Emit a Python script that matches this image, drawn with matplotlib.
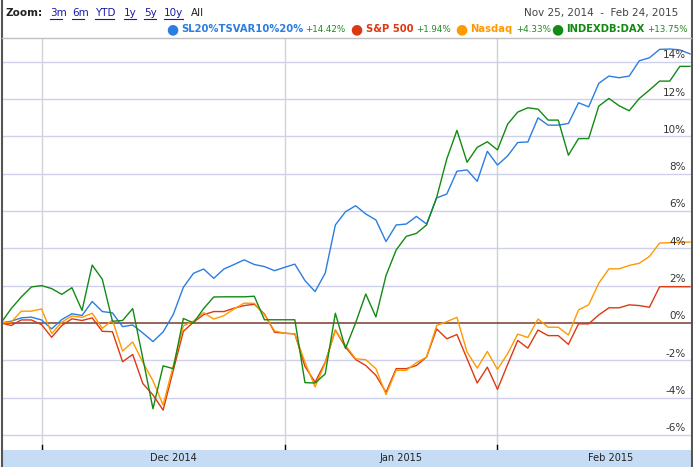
import matplotlib
matplotlib.use("Agg")
import matplotlib.pyplot as plt
from matplotlib.lines import Line2D
from matplotlib.patches import Rectangle

# daily values (% change since Nov 25, 2014), one point per trading day
sl20 = [0, 0.09, 0.27, 0.31, 0.16, -0.32, 0.18, 0.49, 0.4, 1.15, 0.61, 0.54, -0.2, -0.11, -0.54,
        -1.0, -0.48, 0.45, 1.91, 2.66, 2.89, 2.39, 2.89, 3.13, 3.38, 3.13, 3.02, 2.8, 2.98, 3.15,
        2.27, 1.68, 2.67, 5.25, 5.96, 6.28, 5.84, 5.52, 4.36, 5.25, 5.3, 5.71, 5.3, 6.7, 6.91,
        8.13, 8.2, 7.59, 9.2, 8.46, 8.95, 9.67, 9.7, 10.99, 10.6, 10.6, 10.69, 11.8, 11.58, 12.84,
        13.23, 13.14, 13.23, 14.05, 14.21, 14.66, 14.68, 14.63, 14.42]
sp500 = [0, -0.14, 0.16, 0.16, -0.09, -0.77, -0.14, 0.22, 0.13, 0.27, -0.45, -0.47, -2.08, -1.69,
         -3.25, -3.86, -4.67, -2.55, -0.45, 0.04, 0.44, 0.61, 0.61, 0.79, 0.93, 1.0, 0.48, -0.5,
         -0.55, -0.59, -2.33, -3.18, -2.11, -0.38, -1.3, -1.96, -2.28, -2.81, -3.72, -2.45, -2.45,
         -2.28, -1.83, -0.32, -0.85, -0.62, -1.92, -3.22, -2.37, -3.56, -2.23, -0.94, -1.35, -0.38,
         -0.68, -0.68, -1.15, -0.05, -0.05, 0.43, 0.81, 0.81, 0.97, 0.93, 0.84, 1.94, 1.94, 1.94, 1.94]
nasdaq = [0, 0.04, 0.63, 0.63, 0.75, -0.57, 0.04, 0.37, 0.3, 0.52, -0.29, 0.15, -1.51, -1.02,
          -2.11, -3.1, -4.4, -2.3, -0.16, 0.1, 0.55, 0.21, 0.39, 0.75, 1.06, 1.05, 0.44, -0.43,
          -0.55, -0.59, -2.1, -3.43, -2.15, -0.4, -1.2, -1.92, -1.97, -2.45, -3.84, -2.54, -2.54,
          -2.13, -1.83, -0.14, 0.07, 0.3, -1.56, -2.42, -1.53, -2.49, -1.65, -0.6, -0.78, 0.21,
          -0.23, -0.23, -0.65, 0.7, 0.97, 2.13, 2.9, 2.9, 3.08, 3.2, 3.56, 4.28, 4.3, 4.33, 4.33]
dax = [0, 0.76, 1.39, 1.93, 2.0, 1.84, 1.53, 1.89, 0.67, 3.1, 2.34, 0.09, 0.13, 0.77, -1.9, -4.6,
       -2.3, -2.45, 0.24, 0.0, 0.77, 1.39, 1.4, 1.4, 1.4, 1.43, 0.17, 0.17, 0.17, 0.17, -3.2, -3.22,
       -2.73, 0.52, -1.37, 0.0, 1.55, 0.32, 2.54, 3.91, 4.64, 4.8, 5.25, 6.73, 8.79, 10.32, 8.61,
       9.41, 9.71, 9.27, 10.65, 11.3, 11.53, 11.46, 10.87, 10.87, 8.99, 9.88, 9.88, 11.62, 12.03,
       11.64, 11.37, 12.03, 12.48, 12.96, 12.96, 13.75, 13.75]

names = ["SL20%TSVAR10%20%", "S&P 500", "Nasdaq", "INDEXDB:DAX"]
changes = ["+14.42%", "+1.94%", "+4.33%", "+13.75%"]
colors = ["#2a7de1", "#dc3912", "#ff9900", "#138a13"]

month_labels = ["Dec 2014", "Jan 2015", "Feb 2015"]
month_starts = [4, 28, 49]          # point index of the first day of each month
yticks = [-6, -4, -2, 0, 2, 4, 6, 8, 10, 12, 14]

W, H = 693, 467
fig = plt.figure(figsize=(W / 100, H / 100), dpi=100)
fig.patch.set_facecolor("white")


def fx(x):
    return x / W


def fy(y):
    return 1 - y / H


# main plot area (pixels 2..691 wide, 38..450 tall)
ax = fig.add_axes([fx(2), fy(450), fx(689), (450 - 38) / H])
ax.set_xlim(0.1, 68.1)
ax.set_ylim(-6.81, 15.27)
for s in ax.spines.values():
    s.set_visible(False)
ax.set_xticks([])
ax.set_yticks([])

for v in yticks:
    if v == 0:
        continue
    ax.axhline(v, color="#cfd0ec", lw=1.0, zorder=1)
for i, m in enumerate(month_starts):
    ax.axvline(m, color="#c9d5c9" if i == 2 else "#d2d2da", lw=1.0, zorder=1)
ax.axhline(0, color="#7a3b2e", lw=1.1, zorder=2)

xs = list(range(len(sl20)))
for k, series in enumerate([sl20, sp500, nasdaq, dax]):
    ax.plot(xs, series, color=colors[k], lw=1.0, zorder=3 + k)

# right side percent labels sitting just above their grid line
for v in yticks:
    ax.text(0.993, v + 0.08, f"{v}%", transform=ax.get_yaxis_transform(),
            ha="right", va="bottom", fontsize=7.5, color="#333333", zorder=10)

# bottom band with month names
fig.patches.append(Rectangle((fx(2), 0), fx(689), 17 / H, transform=fig.transFigure,
                             facecolor="#c6dcf4", edgecolor="none"))
for m in month_starts:
    ax.plot([m, m], [0, 5 / 412], transform=ax.get_xaxis_transform(), color="black",
            lw=1.0, clip_on=False, zorder=10)
for x, lab in zip([173, 401, 611], month_labels):
    fig.text(fx(x), fy(458), lab, ha="center", va="center", fontsize=7, color="#222222")

# frame lines
fig.add_artist(Line2D([fx(1.5), fx(1.5)], [0, 1], color="#555555", lw=1.5))
fig.add_artist(Line2D([fx(691.5), fx(691.5)], [0, 1], color="#555555", lw=1.5))
fig.add_artist(Line2D([fx(2), fx(691)], [fy(37.5), fy(37.5)], color="#c0c0c0", lw=1.0))

# header: zoom links
fig.text(fx(6), fy(13), "Zoom:", fontsize=7.5, fontweight="bold", color="#222222", va="center")
for x, lab in zip([50, 72, 95, 124, 144, 164], ["3m", "6m", "YTD", "1y", "5y", "10y"]):
    fig.text(fx(x), fy(13), lab, fontsize=7.5, color="#1a1aa6", va="center")
    fig.add_artist(Line2D([fx(x), fx(x + 6.2 * len(lab))], [fy(18.5), fy(18.5)],
                          color="#1a1aa6", lw=0.8))
fig.text(fx(191), fy(13), "All", fontsize=7.5, color="#222222", va="center")
fig.text(fx(678), fy(13), "Nov 25, 2014  -  Feb 24, 2015", fontsize=7.5, color="#444444",
         ha="right", va="center")

# legend row
legend_x = [[172, 181, 305], [356, 366, 416], [461, 470, 516], [557, 566, 647]]
for (dx, nx, cx), name, ch, col in zip(legend_x, names, changes, colors):
    fig.text(fx(dx), fy(29), "\u25CF", fontsize=10, color=col, ha="center", va="center")
    fig.text(fx(nx), fy(29), name, fontsize=7.2, fontweight="bold", color=col, va="center")
    fig.text(fx(cx), fy(29.5), ch, fontsize=6.3, color="#1f8a1f", va="center")

fig.savefig("out.png", dpi=100)
